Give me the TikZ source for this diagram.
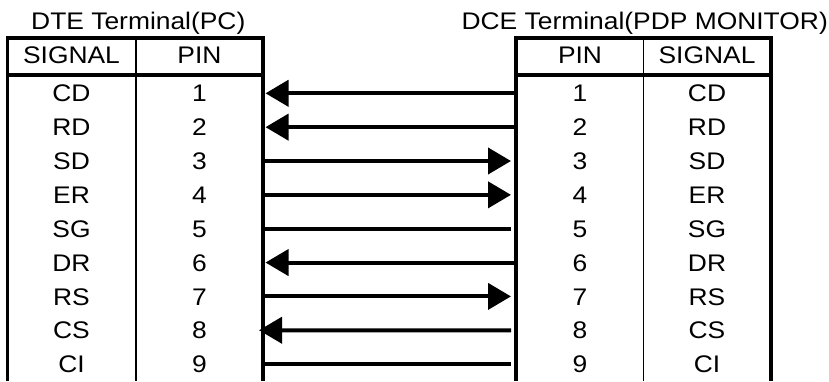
\documentclass[tikz,border=0pt]{standalone}
\usepackage{fontspec}
\setmainfont{Liberation Sans}[FakeStretch=1.1]
\usetikzlibrary{arrows.meta}
\begin{document}
\begin{tikzpicture}[x=1pt,y=-1pt,
  lbl/.style={font=\fontsize{24}{28}\selectfont, inner sep=0pt, anchor=base},
  thickln/.style={line width=3.6pt},
  thinln/.style={line width=1.3pt},
  conn/.style={line width=4pt},
  tip/.style={conn,-{Triangle[length=23pt,width=26pt]}}
]
\useasboundingbox (0,0) rectangle (829,381);
\fill[white] (0,0) rectangle (829,381);
% titles
\node[lbl, anchor=base west] (t1) at (31,29.3) {DTE Terminal(PC)};
\node[lbl, anchor=base east] (t2) at (828,29.3) {DCE Terminal(PDP MONITOR)};
% left table frame
\draw[thickln] (7.5,381) -- (7.5,38) -- (263,38) -- (263,381);
\draw[thickln] (7.5,75) -- (263,75);
\draw[thinln] (136,38) -- (136,381);
% right table frame
\draw[thickln] (516,381) -- (516,38) -- (771,38) -- (771,381);
\draw[thickln] (516,75) -- (771,75);
\draw[thinln] (643.5,38) -- (643.5,381);
% headers
\node[lbl] (hls) at (71.5,63.6) {SIGNAL};
\node[lbl] (hlp) at (199.5,63.6) {PIN};
\node[lbl] (hrp) at (580,63.6) {PIN};
\node[lbl] (hrs) at (707,63.6) {SIGNAL};
% rows
\foreach \i/\s in {1/CD,2/RD,3/SD,4/ER,5/SG,6/DR,7/RS,8/CS,9/CI}{
  \pgfmathsetmacro{\yy}{93.3+33.85*(\i-1)}
  \node[lbl] (ls\i) at (71.5,\yy+8.6) {\s};
  \node[lbl] (lp\i) at (199.5,\yy+8.6) {\i};
  \node[lbl] (rp\i) at (580,\yy+8.6) {\i};
  \node[lbl] (rs\i) at (707,\yy+8.6) {\s};
  \coordinate (a\i) at (263,\yy);
  \coordinate (at\i) at (265.5,\yy);
  \coordinate (b\i) at (516,\yy);
  \coordinate (bt\i) at (511,\yy);
}
\coordinate (c8) at (259,330.25);
% connectors
\draw[tip] (b1) -- (at1);
\draw[tip] (b2) -- (at2);
\draw[tip] (a3) -- (bt3);
\draw[tip] (a4) -- (bt4);
\draw[conn] (a5) -- (bt5);
\draw[tip] (b6) -- (at6);
\draw[tip] (a7) -- (bt7);
\draw[tip] (bt8) -- (c8);
\draw[conn] (a9) -- (bt9);
\end{tikzpicture}
\end{document}
